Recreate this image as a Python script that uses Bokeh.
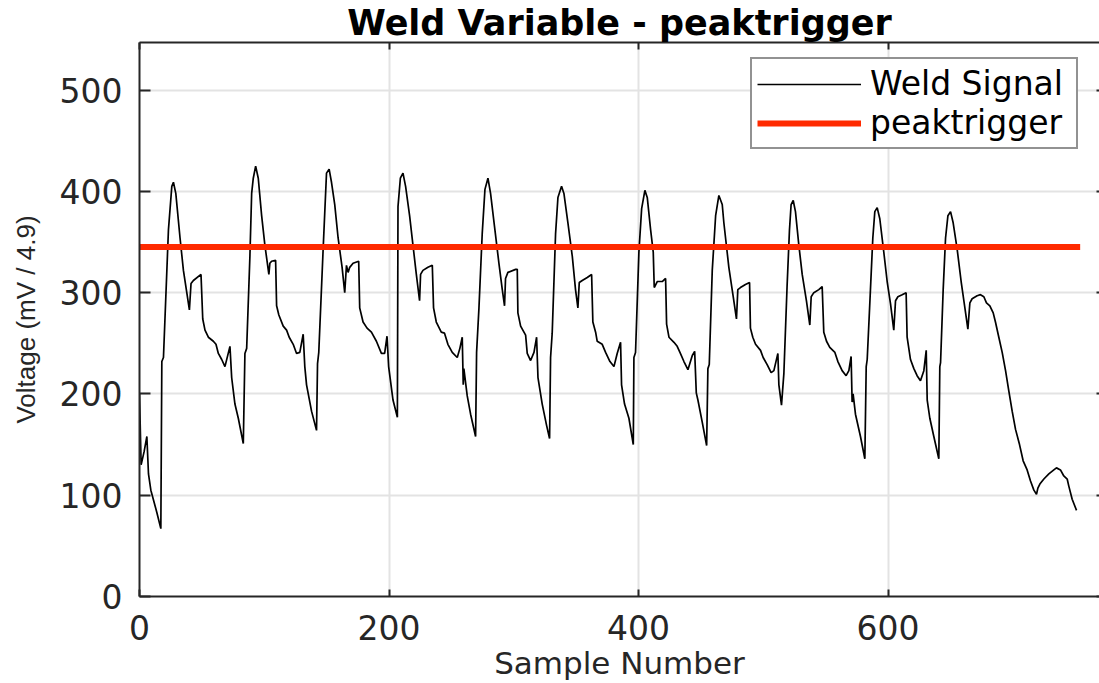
from bokeh.plotting import figure
from bokeh.models import Range1d, LinearAxis, FixedTicker, Legend, LegendItem
from bokeh.embed import file_html
from bokeh.resources import INLINE

# ---- data ----
sample_x = [0, 1.3, 3.7, 5.9, 7.2, 9.1, 13.9, 17.1, 17.9, 19.2, 23.2, 25.9, 27.2, 29.1, 32.5, 35.2, 40, 41.3, 43.2, 49.3,
            50.7, 52.5, 55.2, 59.2, 61.3, 63.2, 65.9, 68.5, 72.5, 73.9, 76.5, 79.2, 83.2, 84.5, 85.9, 88.5, 89.9, 91.2, 93.1,
            95.2, 97.9, 100.5, 103.7, 104.5, 105.9, 109.1, 109.9, 111.7, 115.2, 117.9, 120, 123.2, 125.9, 128.5, 131.2,
            132.5, 133.9, 137.9, 141.9, 142.7, 143.7, 147.2, 149.9, 152, 153.9, 156.5, 159.2, 162.4, 164.5, 165.9, 167.2,
            168.5, 171.2, 175.7, 176.5, 179.2, 182.4, 185.9, 189.9, 193.9, 196.5, 198.4, 199.7, 203.2, 206.7, 207.2, 209.1,
            211.2, 213.3, 216.5, 219.2, 221.9, 224.5, 225.3, 227.2, 231.2, 234.7, 235.7, 237.9, 241.9, 244.5, 247.2, 250.7,
            254.7, 256.8, 258.7, 259.5, 260, 262.7, 265.4, 269.4, 270.2, 272.1, 274.7, 276.9, 279.3, 281.4, 284.6, 288.1,
            290.8, 292.6, 293.4, 295.3, 301.5, 302.8, 303.3, 305.5, 309.5, 310.8, 313.5, 316.2, 318.3, 319.4, 322.8, 326.3,
            328.7, 329.5, 330.8, 333.5, 335.4, 338.3, 340.2, 343.4, 346.9, 349.5, 351.4, 352.5, 354.9, 358.9, 362.4, 363.4,
            365.6, 366.9, 370.9, 373.6, 377.1, 380.3, 382.9, 385.6, 386.4, 388.8, 392.3, 395.8, 396.3, 397.6, 400.3, 402.5,
            405.1, 407, 409.7, 411.8, 412.6, 415, 419, 421.7, 422.5, 424.4, 428.4, 431, 433.2, 436.4, 439.6, 443.1, 445,
            446.3, 447.6, 451.1, 454.6, 455.6, 456.7, 459.1, 461.8, 464.4, 467.1, 468.4, 472.4, 475.9, 478.5, 479.6, 481.7,
            485.7, 489, 489.7, 491.6, 493.8, 497.8, 499.9, 503.1, 506.3, 508.5, 511.7, 512.5, 514.6, 516.5, 519.1, 521,
            522.3, 524, 525.8, 528.5, 531.2, 534.6, 537.3, 538.4, 540.5, 544.5, 547.2, 548.5, 550.7, 553.3, 557.4, 559.8,
            563.2, 566.4, 568.6, 570.4, 571.2, 572, 573.9, 577.9, 581.4, 582.5, 583.3, 585.9, 587.8, 589.4, 591.3, 593.4,
            596.6, 599.3, 602, 604.6, 606, 607.9, 611.3, 614.5, 615.3, 618, 620.7, 623.3, 626, 628.7, 630.6, 631.4, 633.5,
            636.7, 640.7, 641.5, 642.1, 644.2, 646.1, 648, 650.1, 652.2, 655.4, 658.6, 661.6, 664, 665.6, 667.4, 671.4,
            674.1, 676.8, 678.9, 681.6, 684.3, 686.1, 688.8, 691.5, 694.2, 696.8, 699.5, 702.2, 705.4, 708.3, 711.5, 714.2,
            716.9, 719, 720.1, 721.7, 724.9, 728.9, 732.9, 735, 738.2, 740.9, 743.6, 744.9, 747.6, 751.1]
voltage = [200, 130, 143, 158, 121, 105, 83, 67, 232, 236, 362, 405, 409, 398, 354, 322, 283, 309, 312, 318,
           274, 263, 256, 252, 249, 240, 234, 227, 247, 216, 190, 176, 151, 240, 245, 336, 398, 413, 425,
           413, 376, 347, 318, 329, 331, 332, 287, 278, 267, 263, 256, 249, 240, 241, 259,
           227, 209, 183, 164, 230, 241, 343, 418, 422, 409, 387, 354, 325, 300, 327, 320,
           325, 329, 331, 285, 271, 265, 261, 252, 240, 240, 257, 227, 194, 177, 385, 413,
           418, 405, 376, 347, 318, 292, 318, 322, 325, 327, 285, 271, 261, 260, 249, 241,
           236, 245, 256, 209, 225, 198, 180, 158, 241, 285, 358, 402, 413, 398, 365, 329,
           303, 287, 314, 320, 323, 323, 280, 267, 258, 240, 233, 241, 256, 216, 190, 169,
           156, 236, 260, 358, 394, 405, 398, 369, 336, 303, 285, 310, 312, 315, 318, 271,
           261, 252, 249, 241, 232, 227, 240, 251, 209, 190, 176, 150, 236, 241, 340, 383,
           401, 394, 362, 340, 305, 311, 311, 314, 269, 256, 251, 247, 241, 232, 224, 238, 242,
           201, 194, 172, 149, 225, 229, 322, 376, 396, 387, 369, 325, 296, 274, 303, 305,
           308, 310, 265, 256, 249, 243, 236, 229, 221, 223, 240, 209, 189, 220, 307, 362,
           387, 391, 380, 347, 318, 292, 268, 296, 300, 303, 306, 261, 252, 246, 241, 232,
           223, 218, 223, 237, 192, 200, 180, 158, 136, 227, 234, 303, 354, 380, 384, 373,
           340, 311, 289, 263, 292, 296, 298, 300, 256, 234, 225, 218, 213, 223, 243, 194, 176,
           158, 136, 227, 231, 303, 354, 376, 380, 369, 343, 311, 285, 264, 290, 294, 297,
           298, 296, 290, 287, 280, 271, 256, 241, 223, 203, 183, 165, 150, 134, 125, 114,
           105, 101, 107, 111, 116, 121, 125, 127, 125, 119, 116, 109, 96, 85]
trigger_x = [0, 754]
trigger_level = [345, 345]
x_ticks = [0, 200, 400, 600]
y_ticks = [0, 100, 200, 300, 400, 500]

AX = "#262626"
TICK_FONT = "DejaVu Sans"

p = figure(width=1099, height=683, output_backend="svg", toolbar_location=None,
           x_range=Range1d(0, 769.5), y_range=Range1d(0, 547),
           min_border_left=139, min_border_right=0, min_border_top=0, min_border_bottom=86,
           title="Weld Variable - peaktrigger")
p.background_fill_color = "white"
p.border_fill_color = "white"
p.outline_line_color = None

p.title.text_font = "DejaVu Sans"
p.title.text_font_size = "35px"
p.title.text_font_style = "bold"
p.title.text_color = "black"
p.title.align = "center"
p.title.standoff = 0
p.title.offset = 0

# bottom axis
xa = p.xaxis[0]
xa.ticker = FixedTicker(ticks=x_ticks)
xa.axis_label = "Sample Number"
# left axis
ya = p.yaxis[0]
ya.ticker = FixedTicker(ticks=y_ticks)
ya.axis_label = "Voltage (mV / 4.9)"

for ax in (xa, ya):
    ax.axis_line_color = AX
    ax.axis_line_width = 2
    ax.major_tick_line_color = AX
    ax.major_tick_line_width = 2
    ax.major_tick_out = 0
    ax.minor_tick_line_color = None
    ax.major_label_text_font = TICK_FONT
    ax.major_label_text_font_size = "33px"
    ax.major_label_text_color = AX
    ax.axis_label_text_color = AX
    ax.axis_label_text_font_style = "normal"

xa.major_tick_in = 7
xa.major_label_standoff = 18
xa.axis_label_text_font = "DejaVu Sans"
xa.axis_label_text_font_size = "31px"
xa.axis_label_standoff = 2

ya.major_tick_in = 11
ya.major_label_standoff = 17
ya.axis_label_text_font = "Liberation Sans"
ya.axis_label_text_font_size = "26px"
ya.axis_label_standoff = 16

# top border with inward ticks
top = LinearAxis(ticker=FixedTicker(ticks=x_ticks), axis_line_color=AX, axis_line_width=2,
                 major_tick_line_color=AX, major_tick_line_width=2, major_tick_in=7, major_tick_out=0,
                 minor_tick_line_color=None, major_label_text_font_size="0px",
                 major_label_text_color=None, major_label_standoff=0)
p.add_layout(top, "above")
# right-side tick slivers (box edge lies just outside the picture)
right = LinearAxis(ticker=FixedTicker(ticks=y_ticks), axis_line_color=None,
                   major_tick_line_color=AX, major_tick_line_width=2, major_tick_in=3, major_tick_out=0,
                   minor_tick_line_color=None, major_label_text_font_size="0px",
                   major_label_text_color=None, major_label_standoff=0)
p.add_layout(right, "right")

p.xgrid.ticker = FixedTicker(ticks=x_ticks)
p.ygrid.ticker = FixedTicker(ticks=y_ticks)
for g in (p.xgrid, p.ygrid):
    g.grid_line_color = "#e3e3e3"
    g.grid_line_width = 2

r_sig = p.line(sample_x, voltage, line_color="black", line_width=1.7)
r_trig = p.line(trigger_x, trigger_level, line_color="#ff2a00", line_width=6)

legend = Legend(items=[LegendItem(label="Weld Signal", renderers=[r_sig]),
                       LegendItem(label="peaktrigger", renderers=[r_trig])],
                location=(611, 447))
legend.border_line_color = AX
legend.border_line_width = 2
legend.background_fill_color = "white"
legend.background_fill_alpha = 1
legend.padding = 5
legend.spacing = 0
legend.margin = 0
legend.glyph_width = 104
legend.glyph_height = 20
legend.label_height = 20
legend.label_width = 201
legend.label_standoff = 9
legend.label_text_font = "DejaVu Sans"
legend.label_text_font_size = "33px"
legend.label_text_color = "black"
p.add_layout(legend)

open("out.html", "w").write(file_html(p, INLINE))
